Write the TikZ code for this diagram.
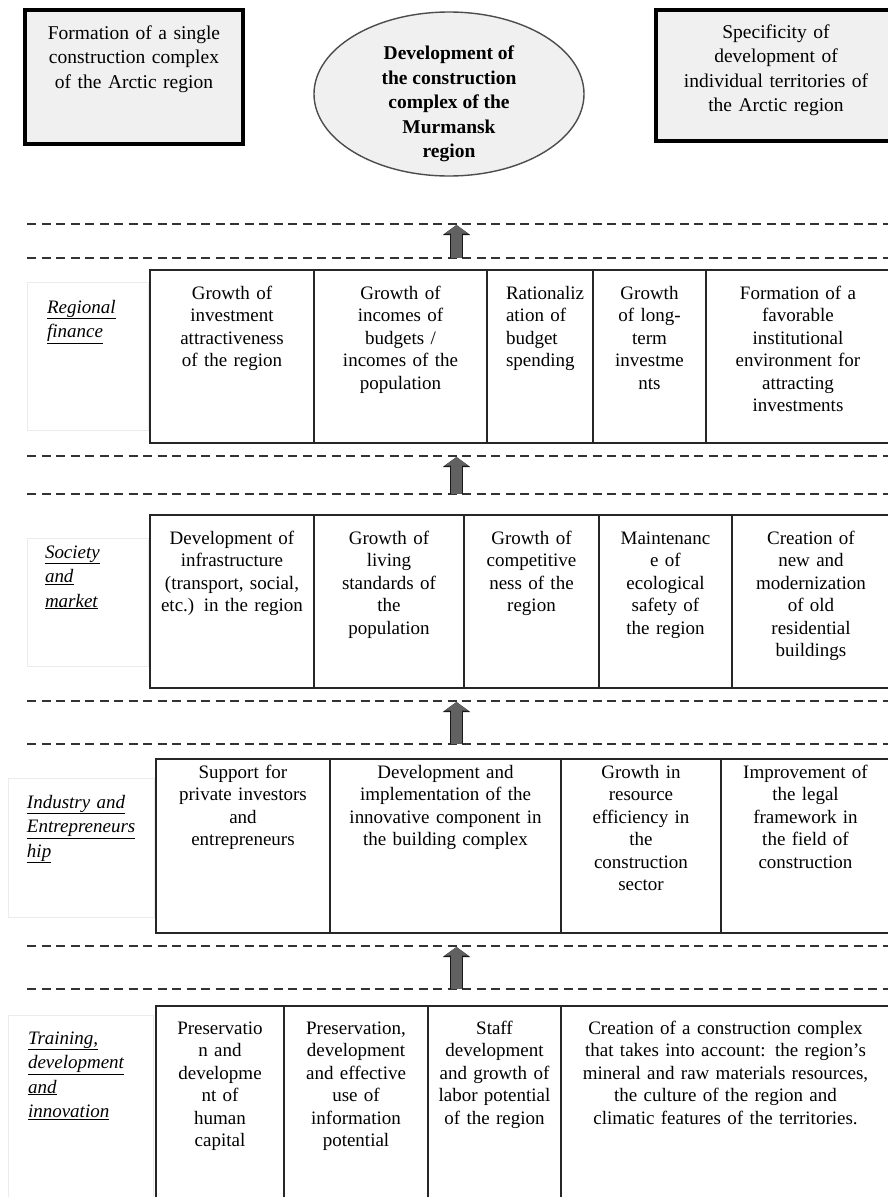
\documentclass[tikz,border=0pt]{standalone}
\usepackage{fontspec}
\setmainfont{Liberation Serif}
\usepackage{tikz}
\usetikzlibrary{
        arrows.meta,
        positioning,
        shapes.geometric
    }

\newcommand{\cellfont}{\fontsize{19}{22.5}\selectfont}
\newcommand{\topfont}{\fontsize{19.5}{24.5}\selectfont}
\newcommand{\labfont}{\fontsize{19}{24.5}\selectfont\itshape}

\begin{document}
\begin{tikzpicture}[x=1pt, y=-1pt,
topbox/.style={draw=black, line width=3.5pt, fill=black!6, align=center, font=\topfont, inner xsep=4pt, inner ysep=0pt, outer sep=0pt, anchor=north west},
hub/.style={ellipse, draw=black!70, line width=1.4pt, fill=black!6, minimum width=270pt, minimum height=164pt},
hubtext/.style={align=center, font=\topfont\bfseries, inner sep=0pt},
layer/.style={draw=black!80, line width=2pt, dash pattern=on 9pt off 5.5pt},
cell/.style={draw=black!85, line width=1.6pt, align=center, font=\cellfont, inner xsep=3pt, inner ysep=0pt, outer sep=0pt},
row1/.style={cell, text height=29pt, text depth=144pt},
row2/.style={cell, text height=29pt, text depth=144pt},
row3/.style={cell, text height=19pt, text depth=155pt},
row4/.style={cell, text height=28pt, text depth=172pt},
rowlabel/.style={draw=black!8, line width=0.8pt, align=left, font=\labfont, inner ysep=0pt, outer sep=0pt, anchor=north west},
uparrow/.style={draw=black!62, line width=11pt, -{Triangle[length=8.5pt, width=23pt]},
  preaction={draw=black!90, line width=13.5pt, -{Triangle[length=10pt, width=27pt]}}},
]

\fill[white] (0,0) rectangle (888,1197);
\useasboundingbox (0,0) rectangle (888,1197);
\clip (0,0) rectangle (888,1197);

\node (tl) [topbox, text width=210pt, text height=29pt, text depth=105pt] at (25,10) {Formation of a single\\construction complex\\of the Arctic region};
\node (tr) [topbox, text width=232pt, text height=28pt, text depth=103pt] at (656,10) {Specificity of\\development of\\individual territories of\\the Arctic region};
\node (hub) [hub] at (449,94) {};
\node (hubtxt) [hubtext] at (449,104) {Development of\\the construction\\complex of the\\Murmansk\\region};

\foreach \y in {224,258,456,494,701,744,946,989}
  \draw[layer] (27,\y) -- (900,\y);

\foreach \lo/\hi [count=\i] in {258/224,494/456,744/701,989/946} {
  \coordinate (lo\i) at (456.5,\lo);
  \coordinate (hi\i) at (456.5,\hi+1);
  \draw[uparrow] (lo\i) -- (hi\i);
}

\node (lab1) [rowlabel, inner xsep=20pt, text width=81pt, text height=31pt, text depth=117pt] at (27,282) {\underline{Regional}\\\underline{finance}};
\node (f11) [row1, text width=158pt, anchor=north west] at (150,270) {Growth of\\investment\\attractiveness\\of the region};
\node (f12) [row1, text width=167pt, right=0pt of f11] {Growth of\\incomes of\\budgets /\\incomes of the\\population};
\node (f13) [row1, text width=68pt, minimum width=106pt, align=left, right=0pt of f12] {Rationaliz\\ation of\\budget\\spending};
\node (f14) [row1, text width=107pt, right=0pt of f13] {Growth\\of long-\\term\\investme\\nts};
\node (f15) [row1, text width=178pt, right=0pt of f14] {Formation of a\\favorable\\institutional\\environment for\\attracting\\investments};

\node (lab2) [rowlabel, inner xsep=18pt, text width=85pt, text height=20pt, text depth=108pt] at (27,538) {\underline{Society}\\\underline{and}\\\underline{market}};
\node (f21) [row2, text width=158pt, anchor=north west] at (150,515) {Development of\\infrastructure\\(transport, social,\\etc.) in the region};
\node (f22) [row2, text width=144pt, right=0pt of f21] {Growth of\\living\\standards of\\the\\population};
\node (f23) [row2, text width=129pt, right=0pt of f22] {Growth of\\competitive\\ness of the\\region};
\node (f24) [row2, text width=127pt, right=0pt of f23] {Maintenanc\\e of\\ecological\\safety of\\the region};
\node (f25) [row2, text width=152pt, right=0pt of f24] {Creation of\\new and\\modernization\\of old\\residential\\buildings};

\node (lab3) [rowlabel, inner xsep=19pt, text width=108pt, text height=30pt, text depth=109pt] at (8,778) {\underline{Industry and}\\\underline{Entrepreneurs}\\\underline{hip}};
\node (f31) [row3, text width=168pt, anchor=north west] at (156,759) {Support for\\private investors\\and\\entrepreneurs};
\node (f32) [row3, text width=225pt, right=0pt of f31] {Development and\\implementation of the\\innovative component in\\the building complex};
\node (f33) [row3, text width=154pt, right=0pt of f32] {Growth in\\resource\\efficiency in\\the\\construction\\sector};
\node (f34) [row3, text width=163pt, right=0pt of f33] {Improvement of\\the legal\\framework in\\the field of\\construction};

\node (lab4) [rowlabel, inner xsep=20pt, text width=105pt, text height=29pt, text depth=200pt] at (8,1015) {\underline{Training,}\\\underline{development}\\\underline{and}\\\underline{innovation}};
\node (f41) [row4, text width=122pt, anchor=north west] at (156,1006) {Preservatio\\n and\\developme\\nt of\\human\\capital};
\node (f42) [row4, text width=138pt, right=0pt of f41] {Preservation,\\development\\and effective\\use of\\information\\potential};
\node (f43) [row4, text width=127pt, right=0pt of f42] {Staff\\development\\and growth of\\labor potential\\of the region};
\node (f44) [row4, text width=323pt, right=0pt of f43] {Creation of a construction complex\\that takes into account: the region's\\mineral and raw materials resources,\\the culture of the region and\\climatic features of the territories.};

\end{tikzpicture}
\end{document}
